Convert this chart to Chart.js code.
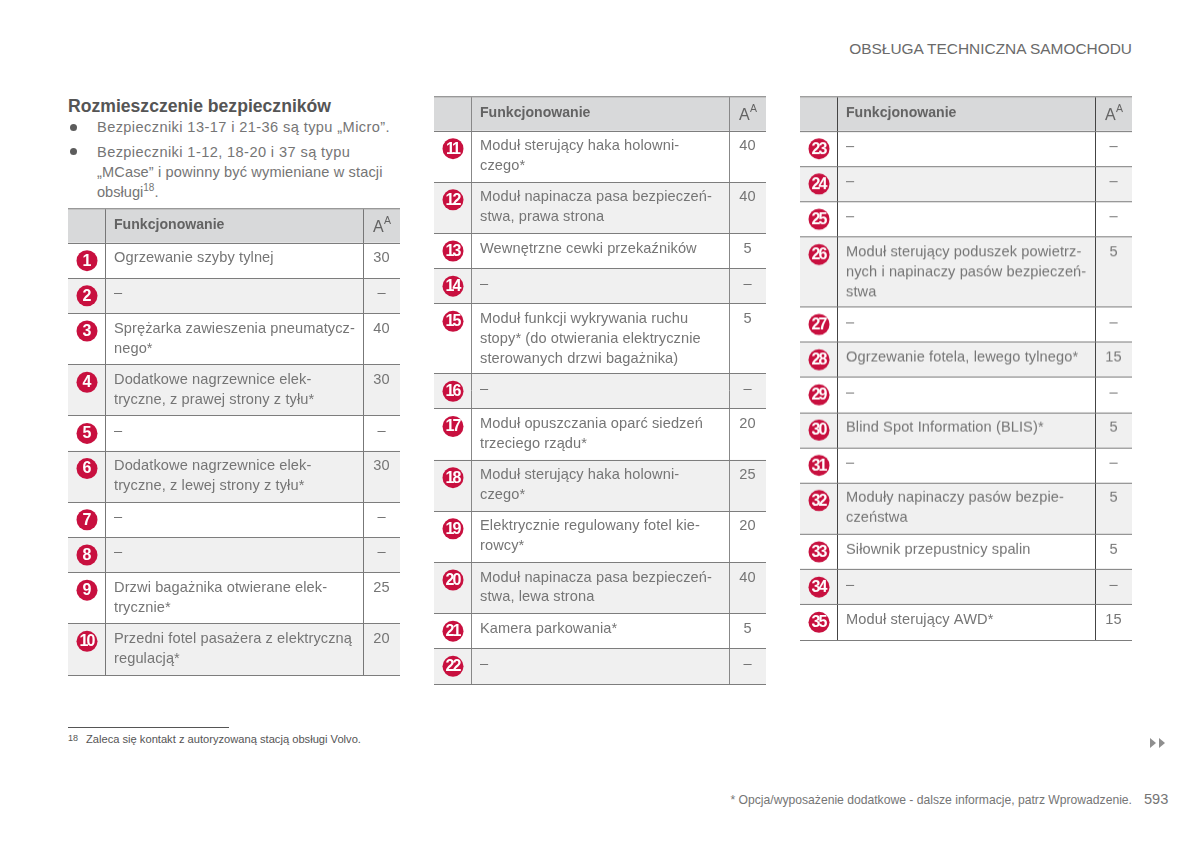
<!DOCTYPE html>
<html lang="pl">
<head>
<meta charset="utf-8">
<title>Rozmieszczenie bezpieczników</title>
<script src="https://cdn.jsdelivr.net/npm/chart.js@4"></script>
<style>
  html, body { margin: 0; padding: 0; background: #fff; }
  body { position: relative; width: 1200px; height: 845px; overflow: hidden;
         font-family: "Liberation Sans", sans-serif; color: #757575; }
  .t { position: absolute; white-space: nowrap; line-height: 20px; font-size: 14.6px; }
  .t sup { font-size: 10px; line-height: 0; }
  .dot { position: absolute; left: 70px; width: 7px; height: 7px; border-radius: 50%; background: #5c5c5c; }
  .arrow { position: absolute; top: 738px; width: 0; height: 0; border-left: 6px solid #8f8f8f;
           border-top: 5px solid transparent; border-bottom: 5px solid transparent; }
  canvas { position: absolute; }
</style>
</head>
<body>
<div class="t" style="right:68px;top:39px;font-size:15.45px;color:#6a6a6a">OBSŁUGA TECHNICZNA SAMOCHODU</div>
<div class="t" style="left:68px;top:96px;font-size:17.6px;font-weight:bold;color:#555">Rozmieszczenie bezpieczników</div>
<div class="dot" style="top:124px"></div>
<div class="t" style="left:97px;top:117px;letter-spacing:.4px">Bezpieczniki 13-17 i 21-36 są typu „Micro”.</div>
<div class="dot" style="top:148px"></div>
<div class="t" style="left:97px;top:142px;letter-spacing:.4px">Bezpieczniki 1-12, 18-20 i 37 są typu</div>
<div class="t" style="left:97px;top:162px;letter-spacing:.12px">„MCase” i powinny być wymieniane w stacji</div>
<div class="t" style="left:97px;top:182px">obsługi<sup>18</sup>.</div>
<div style="position:absolute;left:68px;top:727px;width:161px;height:1px;background:#555"></div>
<div class="t" style="left:68px;top:728px;font-size:9px;color:#555">18</div>
<div class="t" style="left:86px;top:729px;font-size:11.15px;color:#555">Zaleca się kontakt z autoryzowaną stacją obsługi Volvo.</div>
<div class="arrow" style="left:1150px"></div>
<div class="arrow" style="left:1159px"></div>
<div class="t" style="right:68px;top:790px;font-size:12.15px;color:#757575">* Opcja/wyposażenie dodatkowe - dalsze informacje, patrz Wprowadzenie.</div>
<div class="t" style="left:1144px;top:789px;font-size:14.6px">593</div>

<canvas id="table1"></canvas>
<canvas id="table2"></canvas>
<canvas id="table3"></canvas>

<script>
// fuse numbers, functions (one string per printed line) and ratings, table by table
const headerLabel = 'Funkcjonowanie';

const fuses1 = [1, 2, 3, 4, 5, 6, 7, 8, 9, 10];
const functions1 = [
  ['Ogrzewanie szyby tylnej'],
  ['–'],
  ['Sprężarka zawieszenia pneumatycz-', 'nego*'],
  ['Dodatkowe nagrzewnice elek-', 'tryczne, z prawej strony z tyłu*'],
  ['–'],
  ['Dodatkowe nagrzewnice elek-', 'tryczne, z lewej strony z tyłu*'],
  ['–'],
  ['–'],
  ['Drzwi bagażnika otwierane elek-', 'trycznie*'],
  ['Przedni fotel pasażera z elektryczną', 'regulacją*']
];
const amps1 = [30, null, 40, 30, null, 30, null, null, 25, 20];

const fuses2 = [11, 12, 13, 14, 15, 16, 17, 18, 19, 20, 21, 22];
const functions2 = [
  ['Moduł sterujący haka holowni-', 'czego*'],
  ['Moduł napinacza pasa bezpieczeń-', 'stwa, prawa strona'],
  ['Wewnętrzne cewki przekaźników'],
  ['–'],
  ['Moduł funkcji wykrywania ruchu', 'stopy* (do otwierania elektrycznie', 'sterowanych drzwi bagażnika)'],
  ['–'],
  ['Moduł opuszczania oparć siedzeń', 'trzeciego rządu*'],
  ['Moduł sterujący haka holowni-', 'czego*'],
  ['Elektrycznie regulowany fotel kie-', 'rowcy*'],
  ['Moduł napinacza pasa bezpieczeń-', 'stwa, lewa strona'],
  ['Kamera parkowania*'],
  ['–']
];
const amps2 = [40, 40, 5, null, 5, null, 20, 25, 20, 40, 5, null];

const fuses3 = [23, 24, 25, 26, 27, 28, 29, 30, 31, 32, 33, 34, 35];
const functions3 = [
  ['–'],
  ['–'],
  ['–'],
  ['Moduł sterujący poduszek powietrz-', 'nych i napinaczy pasów bezpieczeń-', 'stwa'],
  ['–'],
  ['Ogrzewanie fotela, lewego tylnego*'],
  ['–'],
  ['Blind Spot Information (BLIS)*'],
  ['–'],
  ['Moduły napinaczy pasów bezpie-', 'czeństwa'],
  ['Siłownik przepustnicy spalin'],
  ['–'],
  ['Moduł sterujący AWD*']
];
const amps3 = [null, null, null, 5, null, 15, null, 5, null, 5, 5, null, 15];

// layout of a table, in px of the y axis
const headerH = 34.2;
const rowH = { 1: 35.2, 2: 51.2, 3: 70 };
const tableW = 332;
const colIcon = 37.4, colAmp = 295.5;
const pad = 2;

const textFont = '14.6px "Liberation Sans", sans-serif';

const cellText = {
  id: 'cellText',
  afterDatasetsDraw(chart, args, opts) {
    const { ctx, scales: { x, y } } = chart;
    ctx.save();
    ctx.textBaseline = 'middle';

    // header
    ctx.fillStyle = '#636363';
    ctx.font = 'bold 14.1px "Liberation Sans", sans-serif';
    ctx.textAlign = 'left';
    ctx.fillText(headerLabel, x.getPixelForValue(46), y.getPixelForValue(16));
    ctx.font = '16px "Liberation Sans", sans-serif';
    ctx.fillText('A', x.getPixelForValue(305), y.getPixelForValue(18.5));
    ctx.font = '10.5px "Liberation Sans", sans-serif';
    ctx.fillText('A', x.getPixelForValue(316), y.getPixelForValue(12.5));

    opts.tops.forEach((top, i) => {
      // function text and rating
      ctx.fillStyle = '#757575';
      ctx.font = textFont;
      ctx.letterSpacing = '0.1px';
      ctx.textAlign = 'left';
      opts.functions[i].forEach((line, k) => {
        ctx.fillText(line, x.getPixelForValue(46), y.getPixelForValue(top + 15 + k * 20));
      });
      ctx.textAlign = 'center';
      const amp = opts.amps[i];
      ctx.fillText(amp === null ? '–' : String(amp), x.getPixelForValue(313.5), y.getPixelForValue(top + 15));

      // number on the badge
      ctx.fillStyle = '#fff';
      ctx.font = 'bold 16px "Liberation Sans", sans-serif';
      const n = String(opts.fuses[i]);
      ctx.letterSpacing = n.length > 1 ? '-2px' : '0px';
      ctx.fillText(n, x.getPixelForValue(n.length > 1 ? 18.5 : 19), y.getPixelForValue(top + 18));
      ctx.letterSpacing = '0px';
    });
    ctx.restore();
  }
};

function makeTable(id, left, top, fuses, functions, amps, vColor) {
  // row tops follow from how many lines each row holds
  const tops = [];
  let h = headerH;
  functions.forEach(lines => {
    tops.push(h);
    h += rowH[lines.length];
  });
  const bounds = [0, ...tops, h];

  const canvas = document.getElementById(id);
  canvas.style.left = left + 'px';
  canvas.style.top = (top - pad) + 'px';
  canvas.width = tableW;
  canvas.height = h + pad * 2;
  canvas.style.width = tableW + 'px';
  canvas.style.height = (h + pad * 2) + 'px';

  const bands = [{ x: tableW / 2, y: [0, headerH] }];
  const colors = ['#d8d9da'];
  tops.forEach((t, i) => {
    bands.push({ x: tableW / 2, y: [t, bounds[i + 2]] });
    colors.push(i % 2 ? '#f0f0f0' : '#ffffff');
  });

  return new Chart(canvas, {
    data: {
      datasets: [
        {
          type: 'bar',
          label: 'rows',
          data: bands,
          backgroundColor: colors,
          barThickness: tableW,
          order: 2
        },
        {
          type: 'scatter',
          label: 'fuses',
          data: tops.map(t => ({ x: 19, y: t + 17.5 })),
          pointStyle: 'circle',
          pointRadius: 10.5,
          pointBackgroundColor: '#c8103f',
          pointBorderWidth: 0,
          order: 1
        }
      ]
    },
    options: {
      responsive: false,
      animation: false,
      layout: { autoPadding: false, padding: { top: pad, bottom: pad } },
      plugins: {
        legend: { display: false },
        tooltip: { enabled: false },
        cellText: { tops, fuses, functions, amps }
      },
      scales: {
        x: {
          type: 'linear',
          offset: false,
          min: 0,
          max: tableW,
          afterBuildTicks: s => { s.ticks = [{ value: colIcon }, { value: colAmp }]; },
          ticks: { display: false },
          border: { display: false },
          grid: { offset: false, color: vColor, lineWidth: 1, drawTicks: false, z: 1 }
        },
        y: {
          type: 'linear',
          reverse: true,
          min: 0,
          max: h,
          afterBuildTicks: s => { s.ticks = bounds.map(v => ({ value: v })); },
          ticks: { display: false },
          border: { display: false },
          grid: {
            color: c => (c.tick.value === 0 ? '#999' : '#7d7d7d'),
            lineWidth: c => (c.tick.value === 0 ? 1.5 : 1),
            drawTicks: false,
            z: 1
          }
        }
      }
    },
    plugins: [cellText]
  });
}

makeTable('table1', 68, 208.5, fuses1, functions1, amps1, '#777');
makeTable('table2', 434, 97, fuses2, functions2, amps2, '#888');
makeTable('table3', 800, 97, fuses3, functions3, amps3, '#444');
</script>
</body>
</html>
